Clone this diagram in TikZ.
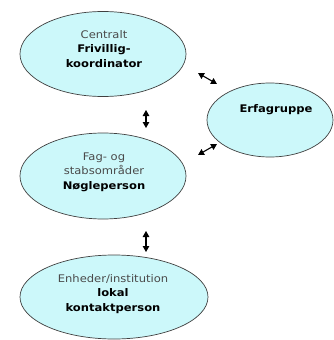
\documentclass[tikz,border=0pt]{standalone}
\usepackage{fontspec}
\setmainfont[FakeStretch=1.1]{DejaVu Sans}
\usetikzlibrary{shapes.geometric,arrows.meta}
\definecolor{bubble}{HTML}{CCF8FA}
\definecolor{lite}{HTML}{4A4A4A}
\begin{document}
\begin{tikzpicture}[x=1pt,y=-1pt,
  bubblenode/.style={ellipse,draw=black!75,line width=0.7pt,fill=bubble,inner sep=0pt,align=center,font=\fontsize{10.5}{14.5}\selectfont},
  arr/.style={{Triangle[width=6.5pt,length=6pt]}-{Triangle[width=6.5pt,length=6pt]},line width=1.1pt}]
\useasboundingbox (0,0) rectangle (334,340);
\node[bubblenode,minimum width=166pt,minimum height=85pt] (c) at (103,54) {};
\node[font=\fontsize{10.5}{14.5}\selectfont,align=center] (ct) at (104,49) {\textcolor{lite}{Centralt}\\\textbf{Frivillig-}\\\textbf{koordinator}};
\node[bubblenode,minimum width=126pt,minimum height=74pt] (e) at (270,120) {};
\node[font=\fontsize{10.5}{14.5}\selectfont\bfseries] (et) at (276,110) {Erfagruppe};
\node[bubblenode,minimum width=166pt,minimum height=86pt] (f) at (103,176) {};
\node[font=\fontsize{10.5}{14.5}\selectfont,align=center] (ft) at (104,172) {\textcolor{lite}{Fag- og}\\\textcolor{lite}{stabsområder}\\\textbf{Nøgleperson}};
\node[bubblenode,minimum width=188pt,minimum height=84pt] (l) at (114,297) {};
\node[font=\fontsize{10.5}{14.5}\selectfont,align=center] (lt) at (113,294) {\textcolor{lite}{Enheder/institution}\\\textbf{lokal}\\\textbf{kontaktperson}};
\coordinate (a1s) at (198,73); \coordinate (a1e) at (217,84);
\coordinate (a2s) at (146,110); \coordinate (a2e) at (146,128);
\coordinate (a3s) at (198,155); \coordinate (a3e) at (217,144);
\coordinate (a4s) at (146,231); \coordinate (a4e) at (146,252);
\draw[arr] (a1s) -- (a1e);
\draw[arr] (a2s) -- (a2e);
\draw[arr] (a3s) -- (a3e);
\draw[arr] (a4s) -- (a4e);
\end{tikzpicture}
\end{document}
